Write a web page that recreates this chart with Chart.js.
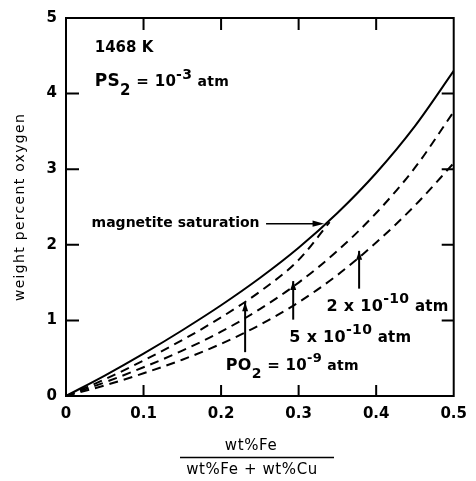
<!DOCTYPE html>
<html>
<head>
<meta charset="utf-8">
<script src="https://cdn.jsdelivr.net/npm/chart.js@4/dist/chart.umd.min.js"></script>
<style>
    html, body { margin: 0; padding: 0; background: #fff; }
    #wrap { width: 476px; height: 481px; }
</style>
</head>
<body>
<div id="wrap"><canvas id="chart" width="476" height="481"></canvas></div>
<script>
    'use strict';

    // x = wt%Fe / (wt%Fe + wt%Cu)
    var xRatio = [0, 0.05, 0.1, 0.15, 0.2, 0.25, 0.3, 0.35, 0.4, 0.45, 0.5],

        // weight percent oxygen
        magnetiteSat = [0, 0.27, 0.56, 0.87, 1.2, 1.56, 1.96, 2.42, 2.95, 3.57, 4.3],
        po2_5e10 = [0, 0.18, 0.38, 0.6, 0.85, 1.15, 1.5, 1.92, 2.42, 3.02, 3.76],
        po2_2e10 = [0, 0.14, 0.3, 0.48, 0.69, 0.94, 1.24, 1.6, 2.03, 2.52, 3.08],

        // 1e-9 curve runs into magnetite saturation at about x = 0.34
        po2_1e9_x = [0, 0.05, 0.1, 0.15, 0.2, 0.25, 0.3, 0.34],
        po2_1e9 = [0, 0.22, 0.47, 0.74, 1.04, 1.38, 1.8, 2.3],

        xTicks = [0, 0.1, 0.2, 0.3, 0.4, 0.5],
        yTicks = [0, 1, 2, 3, 4, 5],

        FONT = '"DejaVu Sans", "Liberation Sans", sans-serif',

        toPoints = function (xs, ys) {
            return ys.map(function (y, i) { return { x: xs[i], y: y }; });
        },

        curve = function (xs, ys, dashed) {
            return {
                data: toPoints(xs, ys),
                borderColor: '#000',
                borderWidth: 2,
                borderDash: dashed ? [9, 6] : [],
                pointRadius: 0,
                cubicInterpolationMode: 'monotone',
                fill: false
            };
        },

        // text pieces: [text, size, dy]
        drawRich = function (ctx, x, y, parts, spacing, weight) {
            parts.forEach(function (p) {
                ctx.font = (weight || 'bold') + ' ' + p[1] + 'px ' + FONT;
                ctx.letterSpacing = (spacing || 0) + 'px';
                ctx.fillText(p[0], x, y + p[2]);
                x += ctx.measureText(p[0]).width;
            });
        },

        arrowUp = function (ctx, x, y0, y1) {
            ctx.beginPath();
            ctx.moveTo(x, y0);
            ctx.lineTo(x, y1);
            ctx.stroke();
            ctx.beginPath();
            ctx.moveTo(x, y1);
            ctx.lineTo(x - 3, y1 + 9);
            ctx.lineTo(x + 3, y1 + 9);
            ctx.closePath();
            ctx.fill();
        },

        framePlugin = {
            id: 'frame',
            afterDraw: function (chart) {
                var ctx = chart.ctx,
                    a = chart.chartArea,
                    sx = chart.scales.x,
                    sy = chart.scales.y,
                    X = function (v) { return sx.getPixelForValue(v); },
                    Y = function (v) { return sy.getPixelForValue(v); };

                ctx.save();
                ctx.strokeStyle = '#000';
                ctx.fillStyle = '#000';
                ctx.lineWidth = 2;
                ctx.strokeRect(a.left, a.top, a.right - a.left, a.bottom - a.top);

                // inward ticks on all four sides
                ctx.beginPath();
                xTicks.slice(1, -1).forEach(function (v) {
                    ctx.moveTo(X(v), a.bottom);
                    ctx.lineTo(X(v), a.bottom - 11);
                    ctx.moveTo(X(v), a.top);
                    ctx.lineTo(X(v), a.top + 12);
                });
                yTicks.slice(1, -1).forEach(function (v) {
                    ctx.moveTo(a.left, Y(v));
                    ctx.lineTo(a.left + 13, Y(v));
                    ctx.moveTo(a.right, Y(v));
                    ctx.lineTo(a.right - 12, Y(v));
                });
                ctx.stroke();

                // axis titles
                ctx.textBaseline = 'middle';
                ctx.textAlign = 'center';
                ctx.save();
                ctx.translate(20, (a.top + a.bottom) / 2);
                ctx.rotate(-Math.PI / 2);
                ctx.font = '14px ' + FONT;
                ctx.letterSpacing = '1.3px';
                ctx.fillText('weight percent oxygen', 0, 0);
                ctx.restore();

                ctx.font = '15px ' + FONT;
                ctx.letterSpacing = '0.6px';
                ctx.fillText('wt%Fe', 251, 446);
                ctx.fillText('wt%Fe + wt%Cu', 252, 470);
                ctx.lineWidth = 1.5;
                ctx.beginPath();
                ctx.moveTo(180, 457.5);
                ctx.lineTo(334, 457.5);
                ctx.stroke();

                // annotations
                ctx.textAlign = 'left';
                ctx.textBaseline = 'alphabetic';
                drawRich(ctx, X(0.037), Y(4.55), [['1468 K', 15, 0]]);
                drawRich(ctx, X(0.037), Y(4.1), [
                    ['PS', 17, 0], ['2', 15, 9], [' = 10', 15, 0], ['-3', 14, -7], [' atm', 14, 0]
                ], 0.3);

                drawRich(ctx, X(0.033), Y(2.23), [['magnetite saturation', 14, 0]], 0);
                ctx.lineWidth = 1.5;
                ctx.beginPath();
                ctx.moveTo(X(0.258), Y(2.28));
                ctx.lineTo(X(0.325), Y(2.28));
                ctx.stroke();
                ctx.beginPath();
                ctx.moveTo(X(0.333), Y(2.28));
                ctx.lineTo(X(0.318), Y(2.24));
                ctx.lineTo(X(0.318), Y(2.32));
                ctx.closePath();
                ctx.fill();

                drawRich(ctx, X(0.336), Y(1.13), [['2 x 10', 16, 0], ['-10', 14, -8], [' atm', 15, 0]], 0.3);
                drawRich(ctx, X(0.288), Y(0.71), [['5 x 10', 16, 0], ['-10', 14, -8], [' atm', 15, 0]], 0.3);
                drawRich(ctx, X(0.206), Y(0.34), [
                    ['PO', 16, 0], ['2', 14, 8], [' = 10', 15, 0], ['-9', 13, -8], [' atm', 14, 0]
                ], 0.3);

                ctx.lineWidth = 2;
                arrowUp(ctx, X(0.231), Y(0.58), Y(1.24));
                arrowUp(ctx, X(0.293), Y(1.01), Y(1.52));
                arrowUp(ctx, X(0.378), Y(1.42), Y(1.92));

                ctx.restore();
            }
        },

        init = function () {
            new Chart(document.getElementById('chart'), {
                type: 'line',
                data: {
                    datasets: [
                        curve(xRatio, magnetiteSat, false),
                        curve(po2_1e9_x, po2_1e9, true),
                        curve(xRatio, po2_5e10, true),
                        curve(xRatio, po2_2e10, true)
                    ]
                },
                options: {
                    responsive: false,
                    animation: false,
                    layout: { padding: { top: 14, right: 17, left: 0, bottom: 0 } },
                    plugins: { legend: { display: false }, tooltip: { enabled: false } },
                    scales: {
                        x: {
                            type: 'linear',
                            min: 0,
                            max: 0.5,
                            afterFit: function (s) { s.height = 85; },
                            afterBuildTicks: function (s) {
                                s.ticks = xTicks.map(function (v) { return { value: v }; });
                            },
                            grid: { display: false, drawTicks: false },
                            border: { display: false },
                            ticks: {
                                color: '#000',
                                padding: 9,
                                font: { family: FONT, size: 15, weight: 'bold' },
                                callback: function (v) { return v === 0 ? '0' : v.toFixed(1); }
                            }
                        },
                        y: {
                            min: 0,
                            max: 5,
                            afterFit: function (s) { s.width = 66; },
                            afterBuildTicks: function (s) {
                                s.ticks = yTicks.map(function (v) { return { value: v }; });
                            },
                            grid: { display: false, drawTicks: false },
                            border: { display: false },
                            ticks: {
                                color: '#000',
                                padding: 9,
                                font: { family: FONT, size: 15, weight: 'bold' }
                            }
                        }
                    }
                },
                plugins: [framePlugin]
            });
        };

    init();
</script>
</body>
</html>
